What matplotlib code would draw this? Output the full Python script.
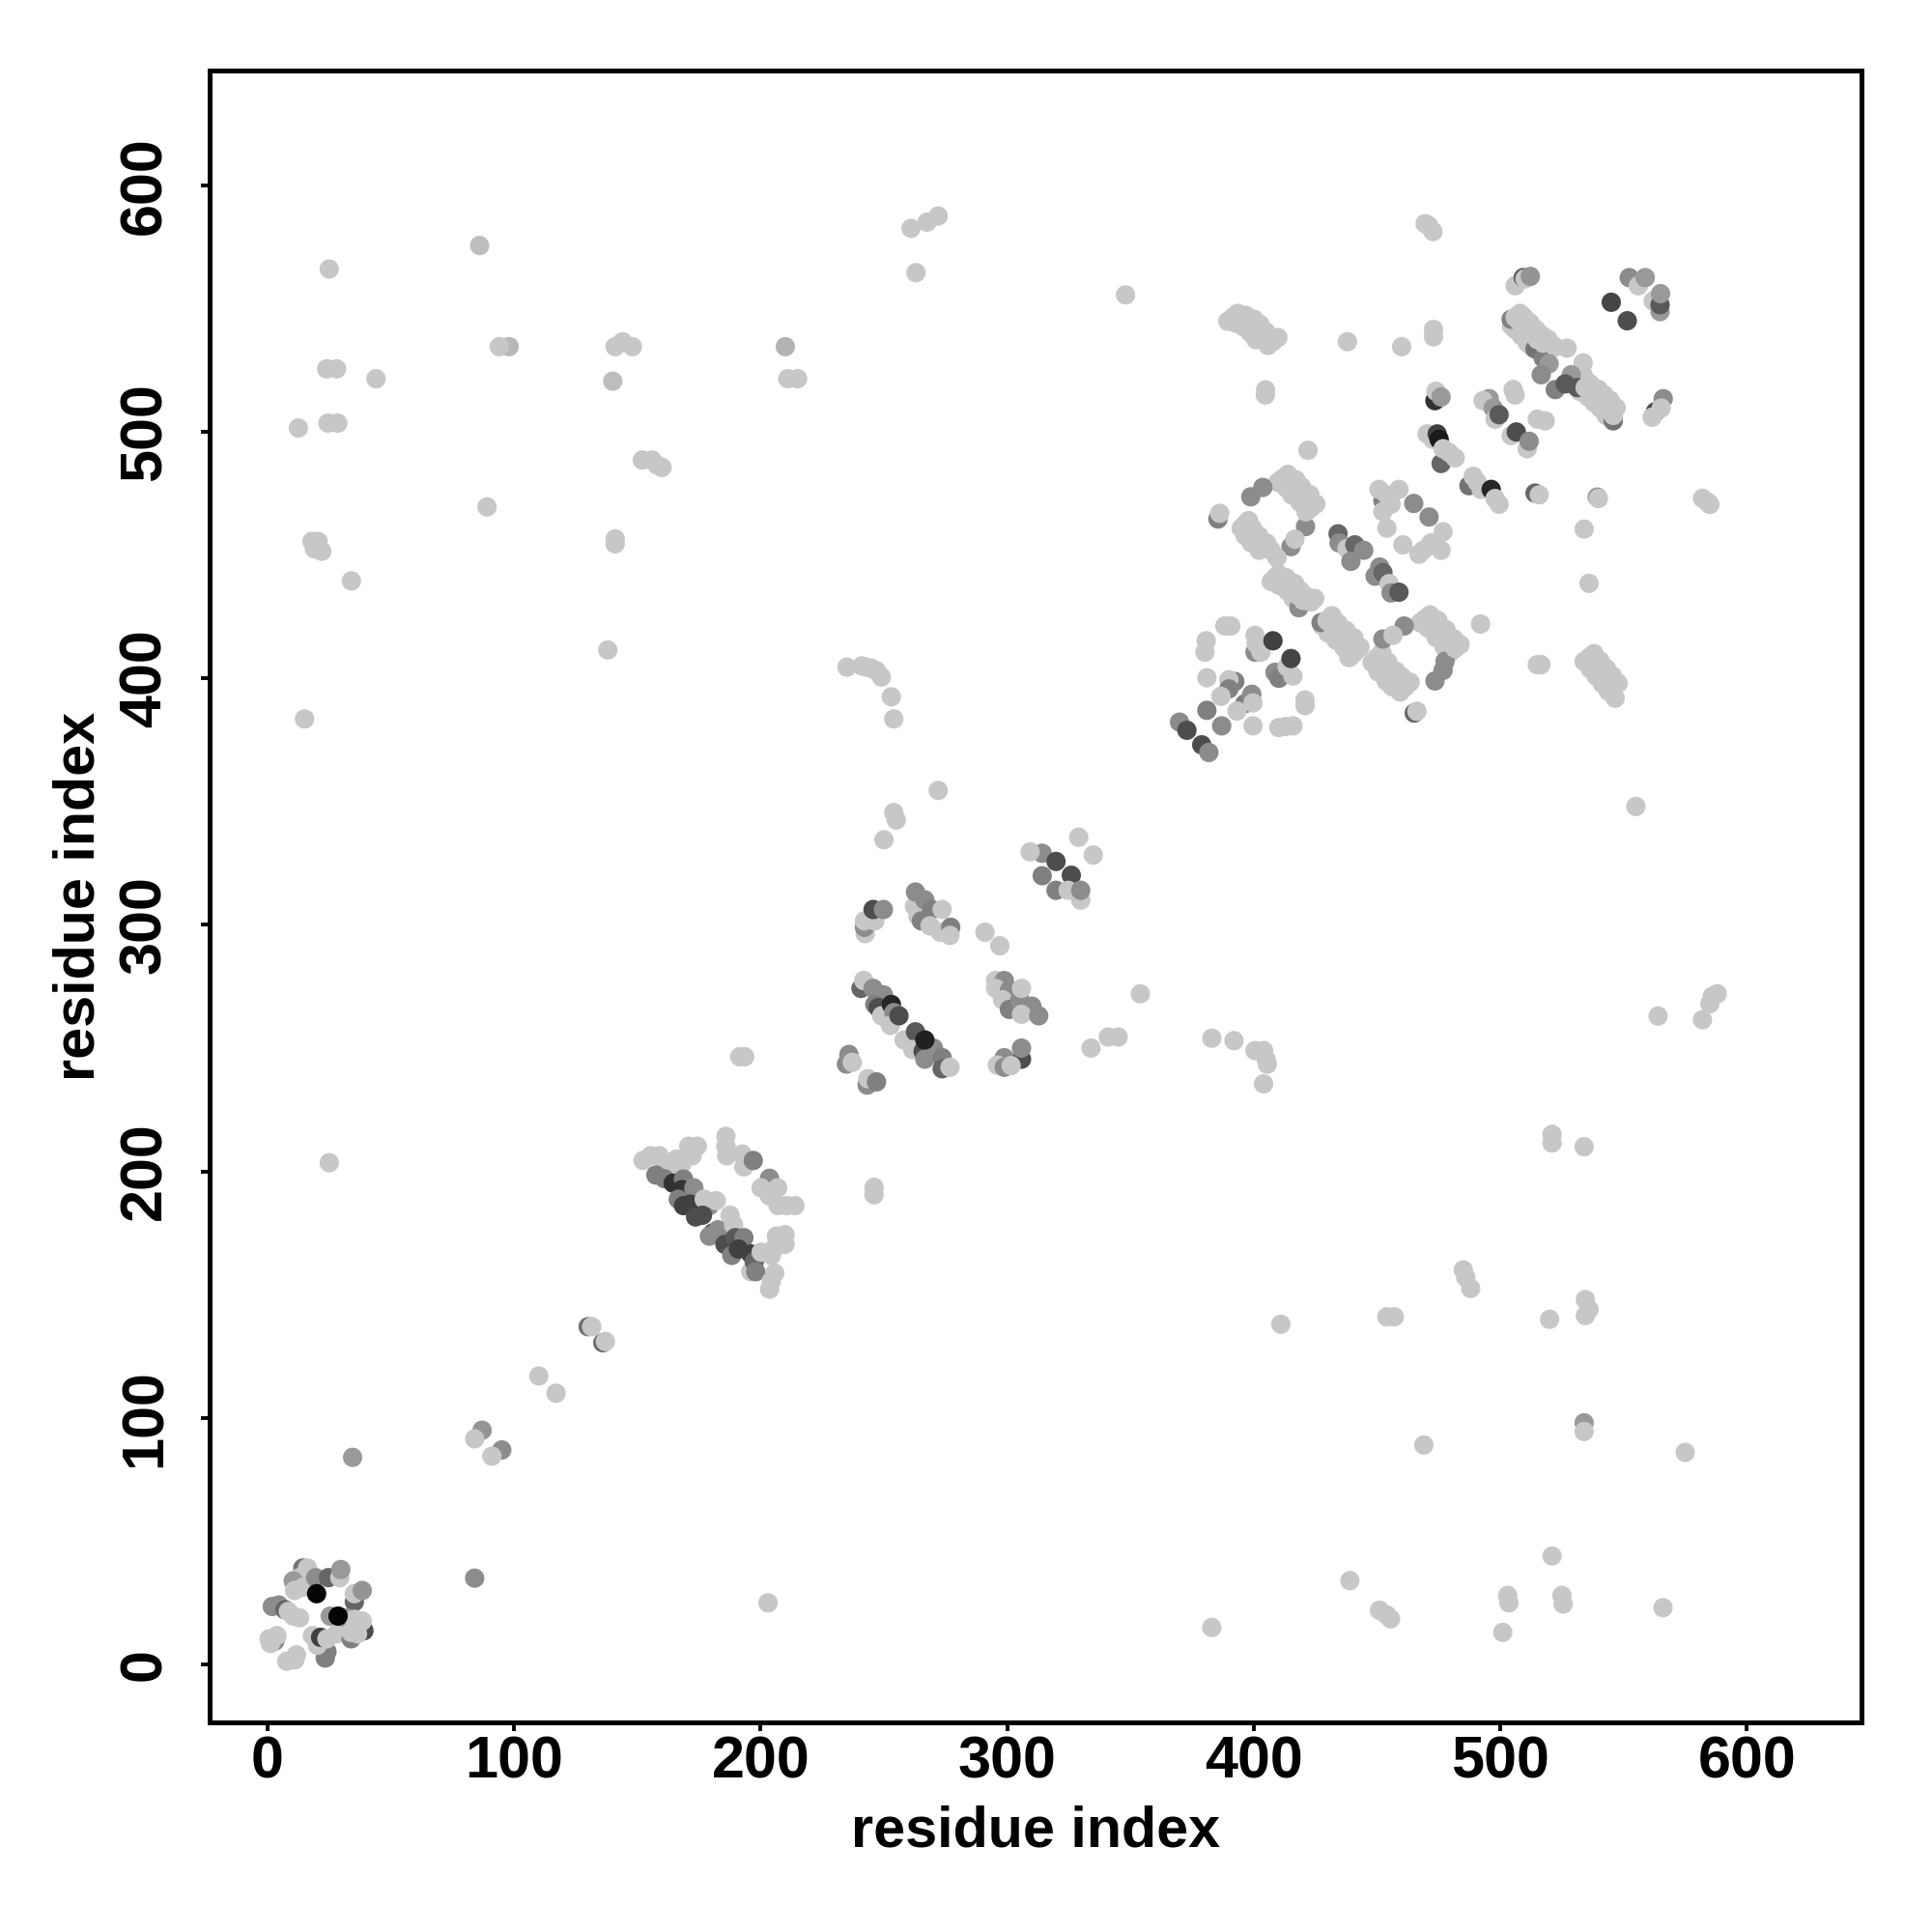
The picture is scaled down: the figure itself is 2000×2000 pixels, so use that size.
import matplotlib
matplotlib.use("Agg")
import matplotlib.pyplot as plt

L = 0.78

# isolated contacts, medium grey
x_s0=[86,98,140,210,34.5,87,95,130,136,84,534,421]
y_s0=[575.5,534.5,520.5,534.5,84,95,87,137,130.5,35,98,461.5]
g_s0=[.74,.72,.74,.7,.6,.58,.55,.45,.4,.55,.6,.55]
# isolated contacts, light grey
x_s1=[25,261,267.5,272,263,348,24,28,44,12.5]
y_s1=[566,582.5,585,587.5,564.5,555.5,525.5,525.5,521.5,501.5]
x_s2=[24.5,28.5,94,141,144,148,211,215,152,156]
y_s2=[503.5,503.5,534.5,534.5,536.5,534.5,521.5,521.5,488.5,488.5]
x_s3=[158,160,89,141,141,18,20.5,19,22,34]
y_s3=[486.5,485.5,469.5,456.5,454.5,455.5,455.5,452.5,451.5,439.5]
x_s4=[138,15,235,241,243,245,247,249,253,254]
y_s4=[411.5,383.5,404.5,405,404.5,404,403,400.5,392.5,383.5]
x_s5=[272,254,255,250,25,191.5,193.5,246,246,84]
y_s5=[354.5,345.5,342.5,334.5,203.5,246.5,246.5,193.5,190.5,91.5]
x_s6=[91,110,117,131.5,137,203,383,439,451,454]
y_s6=[84.5,117,110,137,131,25,15,34,22,20]
x_s7=[455.5,501,503,503.5,525,525.5,521,566,469,575]
y_s7=[18.5,13,28,25,28,24.5,44,23,89,86]
x_s8=[534,411,454,457,485,486,488,520,534.5,536]
y_s8=[94.5,138,141,141,160,157,152.5,140,148,144]
x_s9=[534.5,521,521,534,564,582,585,588,586,555]
y_s9=[141.5,215,211.5,210,263,261.5,268,272,271,348]
x_s10=[534,536,492,515,516.5,582,584,585,354,334]
y_s10=[460.5,438.5,422,405.5,405.5,473,471.5,470.5,272,250]
x_s11=[341,345,383,392,400.5,404,405,405.5,404,291]
y_s11=[254.5,254.5,254,253,249,249,245.5,243.5,235.5,297]
x_s12=[297,438,460,422]
y_s12=[291.5,536.5,534.5,492.5]

# light contacts that widen the dense diagonal strips
x_e1=[397.9,399.5,402,405.2,394.9,396.5,399,402.2]
y_e1=[463.9,460.9,457.9,454.9,460.9,457.9,454.9,451.9]
x_e2=[410.1,413.3,416.6,419,421.5,424.7,407.1,410.3,413.6,416,418.5]
y_e2=[442.2,440.7,438.4,435.4,433.1,432.4,439.2,437.7,435.4,432.4,430.1]
x_e3=[431.7,434.1,437.4,440.6,443.1,427.7,430.1,433.4,436.6,439.1]
y_e3=[425.4,422.4,419.4,416.4,412.6,421.4,418.4,415.4,412.4,408.6]
x_e4=[452,454.4,457.7,460.1,463.4,448,450.4,453.7,456.1,459.4]
y_e4=[410.4,406.6,402.9,400.6,398.4,406.4,402.6,398.9,396.6,394.4]
x_e5=[538,540.5,543,545.4,547.8,534,536.5,539,541.4,543.8]
y_e5=[410,407,404,401,398,406.8,403.8,400.8,397.8,394.8]
x_e6=[508,509.6,512,514.5,517,519.4,504.5,506,508.5,511,513,515.4]
y_e6=[548,546.5,544.2,541.5,539,537.5,543,541.5,539,536,534.2,533]
x_e7=[536.4,539.7,542.1,544.6,547,532.4,535.7,538.1,540.6,543]
y_e7=[519.5,517.2,515,512.7,509.7,516.3,514,511.8,509.5,506.5]
x_e8=[393.5,396.8,400,402.5,404.9,409.8,389.5,392.8,396,398.5,400.9,405.8]
y_e8=[548,547.2,545.7,543.5,540.5,538.2,544.8,544,542.5,540.3,537.3,535]
x_e9=[413.8,417.1,419.5,422.8,425.2,409.8,413.1,415.5,418.8,421.2]
y_e9=[482.7,480.5,477.5,474.5,470.7,479.5,477.3,474.3,471.3,467.5]
x_e10=[471.5,474.7,478,481.2,483.7,467.5,470.7,474,477.2,479.7]
y_e10=[425.7,423.5,419.7,416,413.7,422.5,420.3,416.5,412.8,410.5]

for _p, _c in (("s", 12), ("e", 10)):
    for _n in range(1, _c + 1):
        globals()[f"g_{_p}{_n}"] = [L] * len(globals()[f"x_{_p}{_n}"])

# upper-right domain
x_u1=[469.5,471,472.7,506,509.3,510,512.2,552.3,556,558.8]
y_u1=[584.4,583.6,581.2,559.2,562.5,562,563,562.5,559.2,562.5]
g_u1=[L,L,L,L,.35,L,.58,.55,L,.6]
x_u2=[562,564.8,564.8,565,545,551.5]
y_u2=[553,548.7,551.5,556,552.5,545]
g_u2=[L,.6,.35,.6,.27,.3]
x_u3=[504.4,514.1,517.4,506,507.6,510.1,512.5,515,517.4,522.3]
y_u3=[545.6,533.6,529.9,546.4,544.9,542.6,539.9,537.4,535.9,534.4]
g_u3=[.5,.45,.5,L,L,L,L,L,L,L]
x_u4=[527.1,519.8,516.6,533.6,533.6,528.8,522.3,526.3,531.2,545.8]
y_u4=[533.9,527.6,523.1,527.9,523.1,523.1,517.1,519.4,517.9,504.4]
g_u4=[L,.6,.55,L,L,.6,.5,.35,.35,.45]
x_u5=[534.4,537.7,540.1,542.6,545,545.8,562.9,561.6,566.1,565.3]
y_u5=[517.9,515.6,513.4,511.1,508.1,506.6,508.1,505.9,513.4,509.6]
g_u5=[L,L,L,L,L,L,.3,L,.55,L]
x_u6=[472.9,472.9,404.7,404.8,391.5,394.8,398,400.5,402.9,407.8]
y_u6=[541.5,538.5,514.9,517,546.4,545.6,544.1,541.9,538.9,536.6]
g_u6=[L,L,L,L,L,L,L,L,L,L]
x_u7=[473.5,473.9,476,495.5,493,497.1,497.9,499.5,505.2,506]
y_u7=[512.6,516.4,514.1,513.4,512.6,509.6,505.1,506.9,517.1,514.9]
g_u7=[.2,L,.6,.6,L,.6,L,.35,L,L]
x_u8=[504.4,506.5,510.9,511.7,515,518.2,476,470.3,472.7,474.4,475.2]
y_u8=[498.4,499.9,493.1,496.1,505.1,504.4,487.1,499.1,496.9,499.1,496.9]
g_u8=[L,.3,L,.55,L,L,.4,L,L,.25,.1]
x_u9=[476.8,479.2,481.7,487.3,489,490.6,492.2,496.3,497.9]
y_u9=[493.1,491.6,489.4,478.1,481.9,479.6,476.6,476.6,472.9]
g_u9=[L,L,L,.45,L,L,L,.15,L]
x_u10=[499.5,514.1,515.8,539.3,539.8,385.5,386.2,398.8,403.7,411.8]
y_u10=[470.6,475.1,474.4,473.5,472.9,464.6,466.9,473.6,477.4,481.1]
g_u10=[L,.4,L,.6,L,.5,L,.55,.55,L]
x_u11=[415.1,417.5,420.8,423.2,415.1,416.7,396.4,398,400.5,403.7]
y_u11=[478.9,475.9,472.9,469.1,453.4,456.4,462.4,459.4,456.4,453.4]
g_u11=[L,L,L,L,.55,L,L,L,L,L]
x_u12=[407,409.4,418.3,408.6,411.8,415.1,417.5,420,423.2,427.3]
y_u12=[451.9,448.9,428.6,440.7,439.2,436.9,433.9,431.6,430.9,422.6]
g_u12=[L,L,.55,L,L,L,L,L,L,.5]
x_u13=[429.7,432.1,435.4,438.6,441.1,438.6,450,452.4,455.7,458.1]
y_u13=[423.4,420.4,417.4,414.4,410.6,408.4,408.4,404.6,400.9,398.6]
g_u13=[L,L,L,L,L,L,L,L,L,L]
x_u14=[461.4,465.1,466.2,473.5,476.8,477.6,469.5,472.7,476,479.2]
y_u14=[396.4,385.9,386.6,398.9,403.2,406.9,424.1,421.9,418.1,414.4]
g_u14=[L,.4,L,.55,.55,.55,L,L,L,L]
x_u15=[481.7,461,452.4,456.5,536,538.5,540.9,543.4,545.8,546.6]
y_u15=[412.1,421.2,415.9,417.4,408.4,405.4,402.4,399.4,396.4,391.9]
g_u15=[L,.55,.55,L,L,L,L,L,L,L]
x_u16=[452.4,450.8,454,458.9,455.7,452.4,454,464.9,471.1,460.5]
y_u16=[472.1,476.6,474.4,476.6,470.6,467.6,460.9,470.9,465.4,454.1]
g_u16=[.5,L,L,L,L,L,L,.55,.55,L]
x_u17=[468.7,467,476.8,476,471.9,434.2,434.6,437.8,441,444.6]
y_u17=[451.9,450.3,459.4,451.9,454.9,458.6,454.9,452.6,454.1,451.9]
g_u17=[L,L,L,L,L,.4,.55,L,.4,.55]
x_u18=[439.4,449.2,451.1,452.4,454.9,455.7,458.9,388.3,390.7,380.7]
y_u18=[447.4,441.4,445.1,442.9,438.4,434.6,434.9,421.2,421.2,415.2]
g_u18=[.55,.55,.55,.4,L,.55,.35,L,L,L]
x_u19=[380.2,381,400.5,400.5,402.9,401,407.8,408.6,410.2,413.5]
y_u19=[410.6,400.2,410.6,417.4,410.6,414,415.2,402.4,400,404.6]
g_u19=[L,L,.55,L,L,L,.25,.55,.5,L]
x_u20=[415.9,415.1,392.3,389.9,389.9,386.7,396.4,399.2,399.7,393.2]
y_u20=[400.9,408,398.7,399.4,395.7,392.7,389.7,393.5,390,386.7]
g_u20=[L,.27,.5,L,.5,L,.5,.55,L,L]
x_u21=[381,387,399.7,420.8,420.8,410.2,413,415.9,369.9,372.9]
y_u21=[387,380.7,380.7,388.9,391.2,380,380.4,380.7,382.2,378.9]
g_u21=[.5,.55,L,L,L,L,L,L,.55,.3]
x_u22=[378.9,381.8]
y_u22=[373,369.9]
g_u22=[.3,.55]

# middle domain
x_m1=[314.2,309.3,319.8,314.2,326,319.8,324.7,329.8,329.8,334.9]
y_m1=[329,329.6,325.7,319.9,320.1,314,314,310,314,328.3]
g_m1=[.55,L,.3,.5,.3,.5,L,L,.55,L]
x_m2=[329,242.4,242.1,242.1,246.3,245.6,249.8,262.4,263.8,262.8]
y_m2=[335.5,296.4,299,301.6,301.6,306.2,306.2,307.5,303.5,313.3]
g_m2=[L,L,.55,L,L,.3,.55,L,L,.55]
x_m3=[266.6,269.4,265.2,268.7,272.9,273.6,277.1,276.8,240.7,241.8]
y_m3=[310.1,306.2,301.6,299.6,297,306.2,299,295.7,274.2,277.4]
g_m3=[.55,.5,.5,L,L,L,.5,L,.4,L]
x_m4=[245.6,249.8,246.3,247.7,249.1,253,254,252.6,256.1,258.2]
y_m4=[274.2,271.6,267.7,266.4,263.1,267.7,264.4,259.2,263.1,253.3]
g_m4=[.55,.55,.5,.3,L,.15,.55,L,.3,L]
x_m5=[262.8,261.7,265.9,266.6,270.1,266.6,273.6,273.6,276.8,295.3]
y_m5=[256.6,249.4,248.7,245.5,250,253.3,246.1,241.6,242.2,277.4]
g_m5=[.35,L,.3,.55,.55,.13,.5,.4,L,L]
x_m6=[298.8,295.3,300.9,298.1,300.9,305.1,305.8,310,305.8,312.8]
y_m6=[277.4,274.2,273.5,269.6,265.7,269.6,274.2,267,263.7,263.1]
g_m6=[.55,L,.55,L,.5,.55,L,.55,L,.55]
x_m7=[305.8,298.8,296,298.8,301.6,305.8,235.8,234.8,237.2,243.2]
y_m7=[245.5,246.1,243.1,242.2,242.9,250,247.4,243.5,244.2,235]
g_m7=[.3,.55,L,.55,L,.55,.55,.55,L,.55]
x_m8=[243.5,247]
y_m8=[237.6,236.3]
g_m8=[L,.5]

# lower strip
x_t1=[152.3,155.4,158.9,161,163.8,165.9,168,170.8,174.3,172.2]
y_t1=[204.4,206.3,206.3,203.7,201.8,205,203,210.2,210.2,206.3]
g_t1=[L,L,L,L,L,L,L,L,L,L]
x_t2=[157.5,161,164.5,168.7,168,172.9,166.6,168.7,171.5,179.2]
y_t2=[198.5,197,195.2,196.9,192.6,193.3,188.7,186.1,186.7,186.1]
g_t2=[.5,.5,.2,.5,.2,.55,.5,.25,.25,.55]
x_t3=[177.1,182,173.6,176.4,180.6,179.2,182.7,187.6,189,185.5]
y_t3=[188.7,188.1,181.5,182.2,175,173.7,176.3,182.2,178.3,170.4]
g_t3=[L,L,.3,.3,.3,.55,.55,L,L,.3]
x_t4=[189.7,193.2,188.3,191,196,196,197.4,198,206.4,209.9]
y_t4=[173.1,173.1,165.9,168.5,166.5,159.3,163.3,159.3,173.7,174.3]
g_t4=[.35,.5,.5,.25,.25,L,.4,.5,L,L]
x_t5=[209.9,205.7,200.2,204.3,205.7,204.3,203.6,185.9,185.9,186.2]
y_t5=[170.4,169.1,167.2,165.9,158.7,155.4,152.2,214.2,210.2,206.3]
g_t5=[L,L,L,L,L,L,L,L,L,L]
x_t6=[192.5,193.2,197,203.6,200.2,206.9,203.6,207.1,210.6,213.9]
y_t6=[207,201.8,204.4,197.2,193.3,193.3,190,186.1,186.1,186.1]
g_t6=[L,L,.5,.55,L,L,L,L,L,L]

# N-terminal cluster
x_n1=[1.9,4.5,3.0,.6,1.2,3.8,7.8,11.7,11,23.4]
y_n1=[23.5,24.1,9.5,10.4,8.5,11.7,1.3,3.9,1.9,2.6]
g_n1=[.55,.55,.55,L,L,L,L,L,L,.5]
x_n2=[24.1,14.3,16.2,13,10.4,11,7.1,8.4,10.4,13]
y_n2=[5.2,39.1,39.1,35.2,33.9,30,22.2,21.5,19.6,18.9]
g_n2=[.5,.45,L,L,.6,L,.4,L,L,L]
x_n3=[14.3,19.5,24.7,29.3,29.7,35.2,35.2,38.4,25.4,18.2]
y_n3=[31.3,35.2,35.2,35.2,38.5,25.4,28.7,30,19.6,11.7]
g_n3=[L,.55,.4,L,.6,.4,L,.58,.6,L]
x_n4=[20.2,21.5,24.1,28,31.9,35.2,39.1,33.9,33.9,36.5]
y_n4=[7.8,11,10.4,12.4,18.9,18.3,13.7,10.4,13,12.4]
g_n4=[L,.25,L,L,.6,L,.3,.5,L,L]
x_n5=[38.4,19.9,28.6]
y_n5=[17.6,28.7,19.6]
g_n5=[L,.02,.02]

group_names = (["s0"] + [f"s{i}" for i in range(1, 13)]
               + [f"e{i}" for i in range(1, 11)]
               + [f"u{i}" for i in range(1, 23)]
               + [f"m{i}" for i in range(1, 9)]
               + [f"t{i}" for i in range(1, 7)]
               + [f"n{i}" for i in range(1, 6)])

ticks = [0, 100, 200, 300, 400, 500, 600]
tick_labels = ["0", "100", "200", "300", "400", "500", "600"]
axis_label = "residue index"

plt.rcParams["font.family"] = ["Liberation Sans", "DejaVu Sans"]
plt.rcParams["font.weight"] = "bold"

fig = plt.figure(figsize=(10, 10), dpi=200)
ax = fig.add_axes([217/2000, 1 - 1783/2000, 1710/2000, 1710/2000])

bad = []
for name in group_names:
    xs, ys, gs = globals()["x_" + name], globals()["y_" + name], globals()["g_" + name]
    if not (len(xs) == len(ys) == len(gs)):
        bad.append((name, len(xs), len(ys), len(gs)))
        continue
    ax.scatter(xs, ys, s=52, c=[(g, g, g) for g in gs], linewidths=0, zorder=3)
if bad:
    raise SystemExit(str(bad))

ax.set_xlim(-23.5, 646.5)
ax.set_ylim(-23.5, 646.5)
ax.set_xticks(ticks)
ax.set_xticklabels(tick_labels)
ax.set_yticks(ticks)
ax.set_yticklabels(tick_labels, rotation=90, va="center")
ax.tick_params(axis="x", length=3.2, width=1.4, labelsize=22, pad=1.5)
ax.tick_params(axis="y", length=3.2, width=1.4, labelsize=22, pad=10.3)
for s in ax.spines.values():
    s.set_linewidth(1.8)
ax.set_xlabel(axis_label, fontsize=21.4, fontweight="bold", labelpad=5.4)
ax.set_ylabel(axis_label, fontsize=21.4, fontweight="bold", labelpad=4.7)
fig.savefig("out.png", dpi=200, facecolor="white")
